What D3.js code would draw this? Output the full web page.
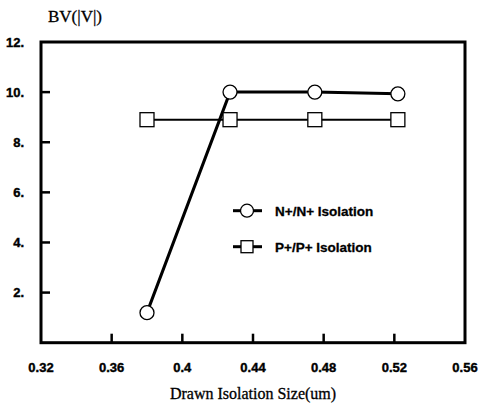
<!DOCTYPE html>
<html><head><meta charset="utf-8">
<script src="https://cdn.jsdelivr.net/npm/d3@7"></script>
<style>body{margin:0;background:#fff}svg{display:block}</style>
</head><body>
<script>
const xTickLabels = [0.32, 0.36, 0.40, 0.44, 0.48, 0.52, 0.56];
const yTickLabels = [2, 4, 6, 8, 10, 12];
const seriesNames = ["N+/N+ Isolation", "P+/P+ Isolation"];
const nX = [0.38, 0.427, 0.475, 0.522];
const nY = [1.2, 10.0, 10.0, 9.93];
const pX = [0.38, 0.427, 0.475, 0.522];
const pY = [8.9, 8.9, 8.9, 8.9];

const W = 481, H = 406;
const svg = d3.select("body").append("svg").attr("width", W).attr("height", H);
const x = d3.scaleLinear().domain([0.32, 0.56]).range([41, 465]);
const y = d3.scaleLinear().domain([0, 12]).range([342.7, 42]);

const sans = "'Liberation Sans', Arial, sans-serif";
const serif = "'Liberation Serif', 'Times New Roman', serif";

// frame
svg.append("rect").attr("x", x(0.32)).attr("y", y(12)).attr("width", x(0.56) - x(0.32)).attr("height", y(0) - y(12))
  .attr("fill", "none").attr("stroke", "#000").attr("stroke-width", 3);

// inward ticks
svg.selectAll(".yt").data(yTickLabels.filter(d => d < 12)).enter().append("line")
  .attr("x1", x(0.32)).attr("x2", x(0.32) + 9).attr("y1", d => y(d)).attr("y2", d => y(d))
  .attr("stroke", "#000").attr("stroke-width", 2.5);
svg.selectAll(".xt").data(xTickLabels.filter(d => d > 0.33 && d < 0.55)).enter().append("line")
  .attr("x1", d => x(d)).attr("x2", d => x(d)).attr("y1", y(0)).attr("y2", y(0) - 9)
  .attr("stroke", "#000").attr("stroke-width", 2.5);

// tick labels
svg.selectAll(".yl").data(yTickLabels).enter().append("text")
  .attr("x", 24).attr("y", d => y(d) + 4.5).attr("text-anchor", "end")
  .attr("font-family", sans).attr("font-weight", "bold").attr("font-size", 13)
  .attr("stroke", "#000").attr("stroke-width", 0.4)
  .text(d => d + ".");
svg.selectAll(".xl").data(xTickLabels).enter().append("text")
  .attr("x", d => x(d)).attr("y", 372).attr("text-anchor", "middle")
  .attr("font-family", sans).attr("font-weight", "bold").attr("font-size", 13)
  .attr("stroke", "#000").attr("stroke-width", 0.4)
  .text(d => String(+d.toFixed(2)));

// axis titles
svg.append("text").attr("x", 48).attr("y", 22).attr("font-family", serif).attr("font-size", 17)
  .attr("fill", "#000").attr("stroke", "#000").attr("stroke-width", 0.3).text("BV(|V|)");
svg.append("text").attr("x", 253).attr("y", 399).attr("text-anchor", "middle").attr("font-family", serif).attr("font-size", 16)
  .attr("stroke", "#000").attr("stroke-width", 0.3).text("Drawn Isolation Size(um)");

// series
const line = d3.line().x(d => x(d[0])).y(d => y(d[1]));
const pData = pX.map((v, i) => [v, pY[i]]);
const nData = nX.map((v, i) => [v, nY[i]]);
svg.append("path").datum(pData).attr("d", line).attr("fill", "none").attr("stroke", "#000").attr("stroke-width", 2);
svg.append("path").datum(nData).attr("d", line).attr("fill", "none").attr("stroke", "#000").attr("stroke-width", 3);
svg.selectAll(".sq").data(pData).enter().append("rect")
  .attr("x", d => x(d[0]) - 7).attr("y", d => y(d[1]) - 7).attr("width", 14).attr("height", 14)
  .attr("fill", "#fff").attr("stroke", "#000").attr("stroke-width", 1.3);
svg.selectAll(".ci").data(nData).enter().append("circle")
  .attr("cx", d => x(d[0])).attr("cy", d => y(d[1])).attr("r", 7)
  .attr("fill", "#fff").attr("stroke", "#000").attr("stroke-width", 1.3);

// legend
const lg = [{name: seriesNames[0], y: 210.7, shape: "circle"}, {name: seriesNames[1], y: 246.7, shape: "square"}];
lg.forEach(l => {
  svg.append("line").attr("x1", 233).attr("x2", 262).attr("y1", l.y).attr("y2", l.y).attr("stroke", "#000").attr("stroke-width", 3);
  if (l.shape === "circle") {
    svg.append("circle").attr("cx", 247).attr("cy", l.y).attr("r", 6.5).attr("fill", "#fff").attr("stroke", "#000").attr("stroke-width", 1.3);
  } else {
    svg.append("rect").attr("x", 241).attr("y", l.y - 6).attr("width", 12).attr("height", 12).attr("fill", "#fff").attr("stroke", "#000").attr("stroke-width", 1.3);
  }
  svg.append("text").attr("x", 275).attr("y", l.y + 5).attr("font-family", sans).attr("font-weight", "bold").attr("font-size", 13.5)
    .attr("stroke", "#000").attr("stroke-width", 0.3).text(l.name);
});
</script>
</body></html>
